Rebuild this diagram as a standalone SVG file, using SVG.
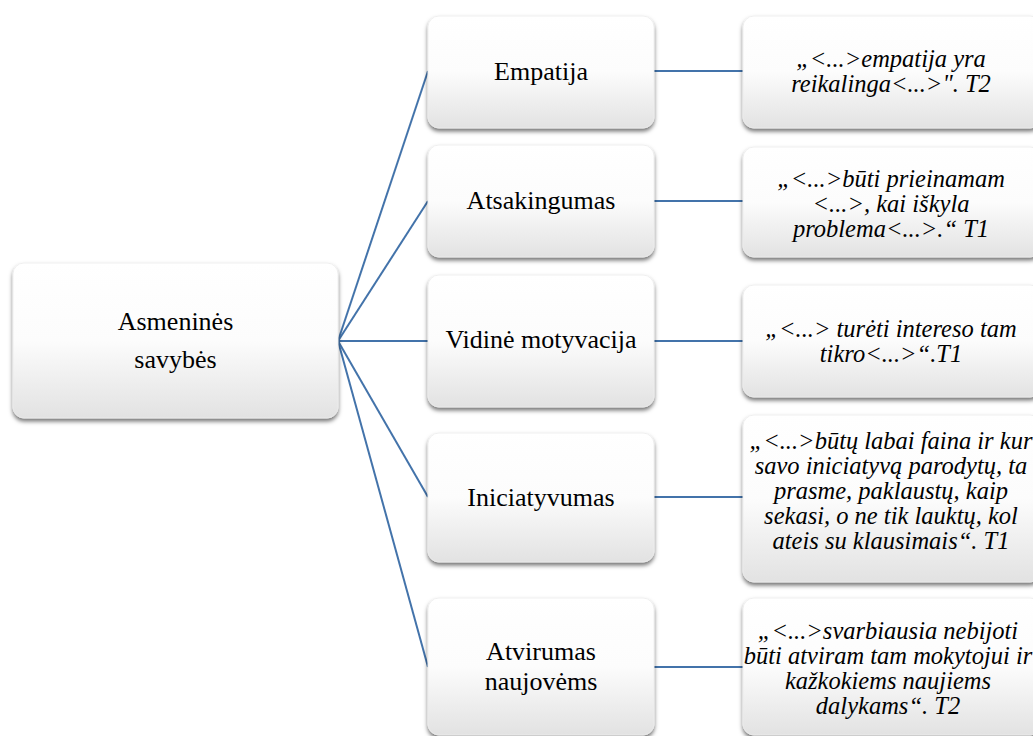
<svg xmlns="http://www.w3.org/2000/svg" width="1033" height="736" viewBox="0 0 1033 736">
  <defs>
    <linearGradient id="boxFill" x1="0" y1="0" x2="0" y2="1">
      <stop offset="0" stop-color="#ffffff"/>
      <stop offset="0.5" stop-color="#fcfcfc"/>
      <stop offset="1" stop-color="#e2e2e2"/>
    </linearGradient>
    <filter id="shadow" x="-10%" y="-10%" width="120%" height="130%">
      <feDropShadow dx="0" dy="3" stdDeviation="2.2" flood-color="#000000" flood-opacity="0.55"/>
    </filter>
  </defs>
  <style>
    .box { fill: url(#boxFill); stroke: #ececec; stroke-width: 0.8; filter: url(#shadow); }
    .link { stroke: #4373aa; stroke-width: 2; fill: none; }
    .lbl { font-family: 'Liberation Serif', serif; font-size: 26px; fill: #000000; text-anchor: middle; }
    .quote { font-family: 'Liberation Serif', serif; font-size: 24.5px; font-style: italic; fill: #000000; text-anchor: middle; }
  </style>
  <rect width="1033" height="736" fill="#ffffff"/>

  <!-- connectors: root fan-out and quote links -->
  <g id="connectors">
    <line class="link" x1="338" y1="341" x2="428" y2="71"/>
    <line class="link" x1="338" y1="341" x2="428" y2="201"/>
    <line class="link" x1="338" y1="341" x2="428" y2="341"/>
    <line class="link" x1="338" y1="341" x2="428" y2="497"/>
    <line class="link" x1="338" y1="341" x2="428" y2="667"/>
    <line class="link" x1="654" y1="71" x2="743" y2="71"/>
    <line class="link" x1="654" y1="201" x2="743" y2="201"/>
    <line class="link" x1="654" y1="341" x2="743" y2="341"/>
    <line class="link" x1="654" y1="497" x2="743" y2="497"/>
    <line class="link" x1="654" y1="667" x2="743" y2="667"/>
  </g>

  <!-- root -->
  <g id="root">
    <rect class="box" x="13" y="263" width="325" height="155" rx="11"/>
    <text class="lbl" x="175.5" y="330">Asmeninės</text>
    <text class="lbl" x="175.5" y="368">savybės</text>
  </g>

  <!-- traits -->
  <g id="empatija">
    <rect class="box" x="428" y="16" width="226" height="112" rx="11"/>
    <text class="lbl" x="541" y="80">Empatija</text>
  </g>
  <g id="atsakingumas">
    <rect class="box" x="428" y="145" width="226" height="112" rx="11"/>
    <text class="lbl" x="541" y="209">Atsakingumas</text>
  </g>
  <g id="vidine-motyvacija">
    <rect class="box" x="428" y="275" width="226" height="132" rx="11"/>
    <text class="lbl" x="541" y="348">Vidinė motyvacija</text>
  </g>
  <g id="iniciatyvumas">
    <rect class="box" x="428" y="433" width="226" height="129" rx="11"/>
    <text class="lbl" x="541" y="506">Iniciatyvumas</text>
  </g>
  <g id="atvirumas">
    <rect class="box" x="428" y="598" width="226" height="137" rx="11"/>
    <text class="lbl" x="541" y="660">Atvirumas</text>
    <text class="lbl" x="541" y="690">naujovėms</text>
  </g>

  <!-- quotes -->
  <g id="quote-empatija">
    <rect class="box" x="743" y="16" width="298" height="112" rx="11"/>
    <text class="quote" x="891" y="67">„&lt;...&gt;empatija yra</text>
    <text class="quote" x="891" y="92">reikalinga&lt;...&gt;". T2</text>
  </g>
  <g id="quote-atsakingumas">
    <rect class="box" x="743" y="147" width="298" height="110" rx="11"/>
    <text class="quote" x="891" y="187">„&lt;...&gt;būti prieinamam</text>
    <text class="quote" x="891" y="212">&lt;...&gt;, kai iškyla</text>
    <text class="quote" x="891" y="237">problema&lt;...&gt;.“ T1</text>
  </g>
  <g id="quote-motyvacija">
    <rect class="box" x="743" y="285" width="298" height="112" rx="11"/>
    <text class="quote" x="891" y="337">„&lt;...&gt; turėti intereso tam</text>
    <text class="quote" x="891" y="362">tikro&lt;...&gt;“.T1</text>
  </g>
  <g id="quote-iniciatyvumas">
    <rect class="box" x="743" y="415" width="298" height="167" rx="11"/>
    <text class="quote" x="891" y="449">„&lt;...&gt;būtų labai faina ir kur</text>
    <text class="quote" x="891" y="474">savo iniciatyvą parodytų, ta</text>
    <text class="quote" x="891" y="499">prasme, paklaustų, kaip</text>
    <text class="quote" x="891" y="524">sekasi, o ne tik lauktų, kol</text>
    <text class="quote" x="891" y="549">ateis su klausimais“. T1</text>
  </g>
  <g id="quote-atvirumas">
    <rect class="box" x="743" y="598" width="298" height="137" rx="11"/>
    <text class="quote" x="888" y="639">„&lt;...&gt;svarbiausia nebijoti</text>
    <text class="quote" x="888" y="664">būti atviram tam mokytojui ir</text>
    <text class="quote" x="888" y="689">kažkokiems naujiems</text>
    <text class="quote" x="888" y="714">dalykams“. T2</text>
  </g>
</svg>
